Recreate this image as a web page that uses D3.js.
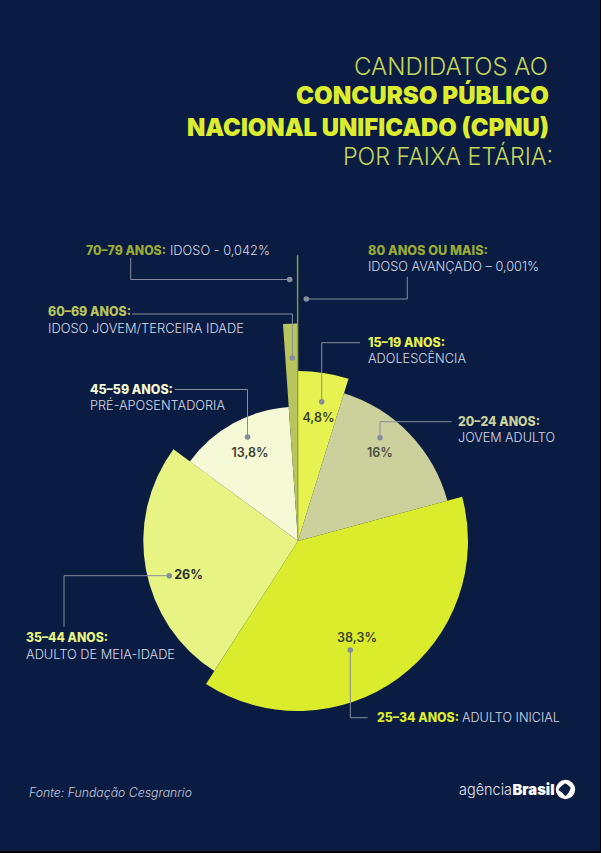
<!DOCTYPE html>
<html>
<head>
<meta charset="utf-8">
<script src="https://cdn.jsdelivr.net/npm/d3@7"></script>
<style>
  html, body { margin: 0; padding: 0; background: #000; }
  svg { display: block; }
  text { font-family: Inter, "Open Sans", sans-serif; }
  .light { font-weight: 300; }
  .bold { font-weight: 800; }
  .heavy { font-weight: 900; }
</style>
</head>
<body>
<div id="chart"></div>
<script>
// share of candidates per age band, clockwise from 12 o'clock
var ageBands = ["15-19", "20-24", "25-34", "35-44", "45-59", "60-69", "70-79", "80+"];
var shares = [4.8, 16, 38.3, 26, 13.8, 1.057, 0.042, 0.001];
// each slice also has its own reach, relative to the 25-34 slice
var reach = [1, 0.91, 1, 0.91, 0.79, 1.28, 1.68, 1.68];
var sliceColors = ["#e5f24f", "#ccd09c", "#dbec2c", "#e7f483", "#f5f9d6", "#b8c55c", "#9aab35", "#9aab35"];

var titleLines = ["CANDIDATOS AO", "CONCURSO PÚBLICO", "NACIONAL UNIFICADO (CPNU)", "POR FAIXA ETÁRIA:"];
var shareLabels = ["4,8%", "16%", "38,3%", "26%", "13,8%"];

var width = 601, height = 853;
var cx = 298, cy = 541;
var bg = "#0b1c43";

var svg = d3.select("#chart").append("svg").attr("width", width).attr("height", height);

svg.append("rect").attr("width", 600).attr("height", 851).attr("fill", bg);

function addText(x, y, str, size, fill, cls, w, anchor) {
  var t = svg.append("text")
    .attr("x", x)
    .attr("y", y)
    .attr("font-size", size)
    .attr("fill", fill)
    .attr("class", cls)
    .attr("text-anchor", anchor || "start")
    .text(str);
  if (w) t.attr("textLength", w).attr("lengthAdjust", "spacingAndGlyphs");
  return t;
}

// title
var titleCol = "#c5d65c", titleBold = "#dcec2f";
addText(354, 75, titleLines[0], 24.5, titleCol, "light", 194);
addText(296, 104, titleLines[1], 24.5, titleBold, "heavy", 253);
addText(187, 136, titleLines[2], 24.5, titleBold, "heavy", 362);
addText(343, 165, titleLines[3], 24.5, titleCol, "light", 210);

// pie
var rScale = d3.scaleLinear().domain([0, 1]).range([0, 170]);
var pie = d3.pie().sort(null).value(function (d) { return d; });
var arc = d3.arc()
  .innerRadius(0)
  .outerRadius(function (d) { return rScale(reach[d.index]); });

svg.append("g")
  .attr("transform", "translate(" + cx + "," + cy + ")")
  .selectAll("path")
  .data(pie(shares))
  .enter()
  .append("path")
  .attr("d", arc)
  .attr("fill", function (d) { return sliceColors[d.index]; })
  .attr("stroke", function (d) { return d.index === 6 ? sliceColors[6] : "none"; })
  .attr("stroke-width", 0.6);

// leader lines, one per age band
var leaders = [
  [[360, 342.7], [321.7, 342.7], [321.7, 401.7]],
  [[451.7, 421.7], [380, 421.7], [380, 437.7]],
  [[367.7, 717.7], [350.3, 717.7], [350.3, 650]],
  [[64, 626.7], [64, 575.7], [169.3, 575.7]],
  [[175, 389.5], [247.5, 389.5], [247.5, 437]],
  [[132, 314], [292.4, 314], [292.4, 358]],
  [[130.7, 258], [130.7, 279.5], [289.7, 279.5]],
  [[407.3, 276.7], [407.3, 299], [306.3, 299]]
];

var line = d3.line();
var leaderCol = "#858d9c";

svg.selectAll("path.leader")
  .data(leaders)
  .enter()
  .append("path")
  .attr("class", "leader")
  .attr("d", function (d) { return line(d); })
  .attr("fill", "none")
  .attr("stroke", leaderCol)
  .attr("stroke-width", 1);

svg.selectAll("circle.end")
  .data(leaders)
  .enter()
  .append("circle")
  .attr("class", "end")
  .attr("cx", function (d) { return d[2][0]; })
  .attr("cy", function (d) { return d[2][1]; })
  .attr("r", 2.8)
  .attr("fill", leaderCol);

// values inside the slices
var labelInk = "#3a3f2c";
addText(318.5, 421.5, shareLabels[0], 12.5, labelInk, "", 0, "middle").style("font-weight", 600);
addText(380, 456.5, shareLabels[1], 12.5, "#4a4e3e", "", 0, "middle").style("font-weight", 600);
addText(357, 642, shareLabels[2], 12.5, labelInk, "", 0, "middle").style("font-weight", 600);
addText(188.5, 579, shareLabels[3], 12.5, "#2a2e2a", "", 0, "middle").style("font-weight", 700);
addText(250, 456.5, shareLabels[4], 12.5, labelInk, "", 0, "middle").style("font-weight", 600);

// band labels
var grey = "#d5dae5";
addText(86, 255, "70–79 ANOS:", 12.5, "#9aab35", "bold", 80);
addText(170, 255, "IDOSO -  0,042%", 12.5, grey, "light", 100);
addText(368, 254.5, "80 ANOS OU MAIS:", 12.5, "#9aab35", "bold", 120);
addText(368, 270.7, "IDOSO AVANÇADO – 0,001%", 12.5, grey, "light", 171);
addText(48, 316, "60–69 ANOS:", 12.5, "#b8c55c", "bold", 83);
addText(48, 333, "IDOSO JOVEM/TERCEIRA IDADE", 12.5, grey, "light", 196);
addText(90, 394, "45–59 ANOS:", 12.5, "#f5f9d6", "bold", 83);
addText(90, 410, "PRÉ-APOSENTADORIA", 12.5, grey, "light", 135);
addText(368, 346.7, "15–19 ANOS:", 12.5, "#e5f24f", "bold", 77);
addText(368, 363, "ADOLESCÊNCIA", 12.5, grey, "light", 98);
addText(458, 426, "20–24 ANOS:", 12.5, "#ccd09c", "bold", 82);
addText(458, 442, "JOVEM ADULTO", 12.5, grey, "light", 97);
addText(26, 642, "35–44 ANOS:", 12.5, "#e7f483", "bold", 82);
addText(26, 658.7, "ADULTO DE MEIA-IDADE", 12.5, grey, "light", 149);
addText(377, 722, "25–34 ANOS:", 12.5, "#dbec2c", "bold", 82);
addText(462, 722, "ADULTO INICIAL", 12.5, grey, "light", 98);

// footer
addText(29, 796.7, "Fonte: Fundação Cesgranrio", 12.5, "#c5cbdc", "light", 163).style("font-style", "italic");
addText(459, 795, "agência", 15, "#e4e7ee", "light", 53);
addText(512.5, 795, "Brasil", 15, "#ffffff", "heavy", 42);

// logo: white disc with a dark blob inside
svg.append("circle").attr("cx", 565.5).attr("cy", 789.5).attr("r", 9.7).attr("fill", "#ffffff");
var blob = d3.line().curve(d3.curveCardinalClosed.tension(0.4));
svg.append("path")
  .attr("d", blob([[565, 783.5], [570.5, 787.5], [569, 792], [565.5, 796], [562, 792.5], [558.5, 789.5]]))
  .attr("fill", bg);
</script>
</body>
</html>
